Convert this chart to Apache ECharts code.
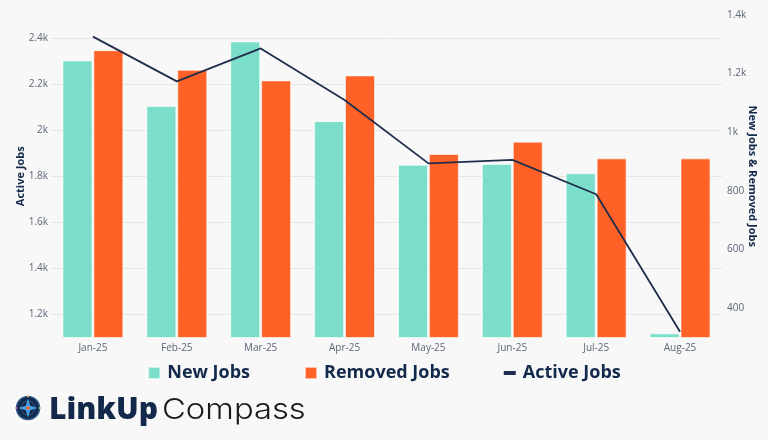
<!DOCTYPE html>
<html><head><meta charset="utf-8">
<script src="https://cdn.jsdelivr.net/npm/echarts@6/dist/echarts.min.js"></script>
<style>html,body{margin:0;padding:0;background:#f8f8f8;}#c{width:768px;height:440px;}</style>
</head><body><div id="c"></div>
<script>
const months = ['Jan-25','Feb-25','Mar-25','Apr-25','May-25','Jun-25','Jul-25','Aug-25'];
const newJobs = [1245, 1090, 1310, 1038, 889, 892, 860, 314];
const removedJobs = [1280, 1213, 1177, 1194, 926, 968, 911, 911];
const activeJobs = [2406, 2212, 2355, 2131, 1856, 1871, 1722, 1125];
const leftTicks = [1200, 1400, 1600, 1800, 2000, 2200, 2400];
const rightTicks = [400, 600, 800, 1000, 1200, 1400];

const NAVY = '#13294b';
const fmtK = v => v >= 1000 ? (v / 1000) + 'k' : String(v);

const chart = echarts.init(document.getElementById('c'));
chart.setOption({
  backgroundColor: '#f8f8f8',
  animation: false,
  textStyle: { fontFamily: 'Open Sans' },
  grid: { left: 51, right: 46, top: 15, bottom: 102.5, containLabel: false, outerBoundsMode: 'none' },
  legend: {
    left: 'center', top: 359,
    itemWidth: 12, itemHeight: 12, itemGap: 54,
    textStyle: { fontSize: 18, fontWeight: 'bold', color: NAVY, fontFamily: 'Open Sans', padding: [0, 0, 0, 2] },
    data: [
      { name: 'New Jobs', icon: 'rect' },
      { name: 'Removed Jobs', icon: 'rect' },
      { name: 'Active Jobs', icon: 'path://M0,0h0.01v0.01h-0.01z M0,4h12v4h-12z M11.99,11.99h0.01v0.01h-0.01z' }
    ]
  },
  xAxis: {
    type: 'category', data: months,
    axisLine: { show: false }, axisTick: { show: false },
    axisLabel: { color: '#5b6577', fontSize: 10, margin: 6 }
  },
  yAxis: [
    {
      type: 'value', min: 1100, max: 2500, interval: 100, position: 'left',
      name: 'Active Jobs', nameLocation: 'middle', nameGap: 25, nameRotate: 90, nameMoveOverlap: false,
      nameTextStyle: { color: NAVY, fontWeight: 'bold', fontSize: 11 },
      axisLine: { show: false }, axisTick: { show: false }, splitLine: { show: false },
      axisLabel: { color: '#5b6577', fontSize: 10, margin: 3,
        formatter: v => leftTicks.includes(v) ? fmtK(v) : '' }
    },
    {
      type: 'value', min: 300, max: 1400, interval: 100, position: 'right',
      name: 'New Jobs & Removed Jobs', nameLocation: 'middle', nameGap: 25, nameRotate: -90, nameMoveOverlap: false,
      nameTextStyle: { color: NAVY, fontWeight: 'bold', fontSize: 11 },
      axisLine: { show: false }, axisTick: { show: false }, splitLine: { show: false },
      axisLabel: { color: '#5b6577', fontSize: 10, margin: 5,
        formatter: v => rightTicks.includes(v) ? fmtK(v) : '' }
    }
  ],
  series: [
    {
      name: 'New Jobs', type: 'bar', yAxisIndex: 1, data: newJobs,
      barWidth: 30, barGap: '3%',
      itemStyle: { color: '#7adeca', borderColor: 'rgba(255,255,255,0.6)', borderWidth: 1 }
    },
    {
      name: 'Removed Jobs', type: 'bar', yAxisIndex: 1, data: removedJobs,
      barWidth: 30,
      itemStyle: { color: '#ff6127', borderColor: 'rgba(255,255,255,0.6)', borderWidth: 1 }
    },
    {
      name: 'Active Jobs', type: 'line', yAxisIndex: 0, data: activeJobs,
      showSymbol: false, symbol: 'none', z: 5,
      lineStyle: { color: '#1f2e4a', width: 1.8 }, itemStyle: { color: '#1f2e4a' },
      markLine: {
        silent: true, symbol: 'none', z: 1, label: { show: false }, animation: false,
        lineStyle: { color: '#e6e6e6', type: 'solid', width: 1 },
        data: leftTicks.map(v => ({ yAxis: v }))
      }
    }
  ],
  graphic: [
    { type: 'circle', shape: { cx: 28, cy: 408, r: 11.5 }, style: { fill: '#13294b', stroke: '#2f5688', lineWidth: 1.5 } },
    { type: 'circle', shape: { cx: 28, cy: 408, r: 7 }, style: { fill: 'none', stroke: '#2f5688', lineWidth: 1 } },
    { type: 'polygon', shape: { points: [[28,398.5],[30.2,405.8],[37.5,408],[30.2,410.2],[28,417.5],[25.8,410.2],[18.5,408],[25.8,405.8]] }, style: { fill: '#4aa3e6' } },
    { type: 'circle', shape: { cx: 28, cy: 408, r: 1.8 }, style: { fill: '#ff6127' } },
    { type: 'circle', shape: { cx: 28, cy: 396.3, r: 1 }, style: { fill: '#f7c64a' } },
    { type: 'circle', shape: { cx: 39.7, cy: 408, r: 1 }, style: { fill: '#9bd14b' } },
    { type: 'circle', shape: { cx: 16.3, cy: 408, r: 1 }, style: { fill: '#e85a9a' } },
    { type: 'text', x: 49, y: 410.5, style: { text: 'LinkUp', font: '800 30px "Open Sans"', fill: NAVY, align: 'left', verticalAlign: 'middle' } },
    { type: 'text', x: 162, y: 410.5, scaleX: 1.13, style: { text: 'Compass', font: '300 29px Inter', fill: '#1a1a1a', align: 'left', verticalAlign: 'middle' } }
  ]
});
</script></body></html>
